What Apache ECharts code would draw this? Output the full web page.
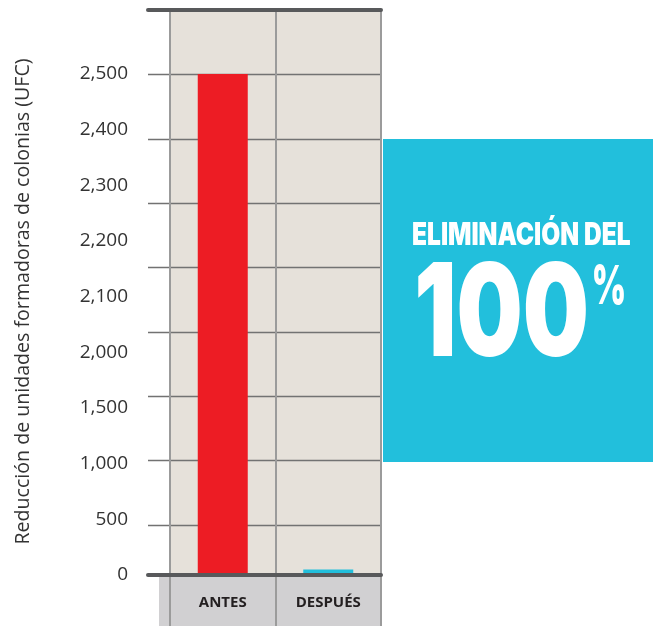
<!DOCTYPE html>
<html><head><meta charset="utf-8">
<script src="https://cdn.jsdelivr.net/npm/echarts@6/dist/echarts.min.js"></script>
<style>html,body{margin:0;padding:0;background:#fff}#c{width:653px;height:626px}</style>
</head><body><div id="c"></div>
<script>
const categories = ['ANTES', 'DESPUÉS'];
const values = [2500, 50];
const tickValues = [0, 500, 1000, 1500, 2000, 2100, 2200, 2300, 2400, 2500];
const yAxisName = 'Reducción de unidades formadoras de colonias (UFC)';
const calloutLine1 = 'ELIMINACIÓN DEL';
const calloutNumber = '100';
const calloutUnit = '%';

// broken (piecewise-linear) axis: value -> tick index position
function toAxis(v) {
  for (let i = 1; i < tickValues.length; i++) {
    if (v <= tickValues[i]) {
      const a = tickValues[i - 1], b = tickValues[i];
      return i - 1 + (v - a) / (b - a);
    }
  }
  return tickValues.length - 1;
}
function fmt(n) { return n.toLocaleString('en-US'); }

const H_LINE = '#727272';
const V_LINE = '#9b9b9b';
const DARK = '#58595b';
const CYAN = '#22bfdc';
const CALLOUT_FONT = "900 100px Inter, 'DejaVu Sans Condensed', sans-serif";

// fit a text into a glyph box [L,R]x[T,B] using canvas metrics (textBaseline middle, as zrender draws)
const mctx = document.createElement('canvas').getContext('2d');
function fitText(text, vText, box) {
  mctx.font = CALLOUT_FONT;
  mctx.textBaseline = 'middle';
  mctx.textAlign = 'left';
  const mh = mctx.measureText(text);
  const mv = mctx.measureText(vText);
  const bl = mh.actualBoundingBoxLeft, br = mh.actualBoundingBoxRight;
  const ba = mv.actualBoundingBoxAscent, bd = mv.actualBoundingBoxDescent;
  const sx = (box.R - box.L) / (bl + br);
  const sy = (box.B - box.T) / (ba + bd);
  return {
    type: 'text', z: 6,
    x: box.L + sx * bl, y: box.T + sy * ba, scaleX: sx, scaleY: sy,
    style: {text: text, x: 0, y: 0, fill: '#ffffff', font: CALLOUT_FONT, align: 'left', verticalAlign: 'middle'}
  };
}

const chart = echarts.init(document.getElementById('c'), null, {renderer: 'canvas'});
chart.setOption({
  animation: false,
  backgroundColor: '#ffffff',
  grid: [
    {left: 148, top: 10, width: 233, height: 515, show: false},
    {left: 170, top: 10, width: 211, height: 565, show: true, backgroundColor: '#e6e1da', borderWidth: 0, z: -1}
  ],
  xAxis: [
    {gridIndex: 0, type: 'value', position: 'top', min: 0, max: 1, z: 3,
     axisLine: {show: true, onZero: false, lineStyle: {color: DARK, width: 4}},
     axisTick: {show: false}, axisLabel: {show: false}, splitLine: {show: false}},
    {gridIndex: 0, type: 'value', position: 'bottom', offset: 50, min: 0, max: 1, z: 3,
     axisLine: {show: true, onZero: false, lineStyle: {color: DARK, width: 4}},
     axisTick: {show: false}, axisLabel: {show: false}, splitLine: {show: false}},
    {gridIndex: 1, type: 'category', data: categories, position: 'bottom',
     axisLine: {show: false, onZero: false},
     axisTick: {show: true, length: 51, lineStyle: {color: V_LINE, width: 2}},
     splitLine: {show: true, lineStyle: {color: V_LINE, width: 2}},
     axisLabel: {show: true, margin: 20, fontSize: 15, fontWeight: 'bold', color: '#231f20', fontFamily: "'Open Sans', sans-serif"}}
  ],
  yAxis: [
    {gridIndex: 0, type: 'value', min: 0, max: 8, interval: 1,
     axisLine: {show: false}, axisTick: {show: false}, axisLabel: {show: false},
     splitLine: {show: true, lineStyle: {color: H_LINE, width: 1.4}}},
    {gridIndex: 1, type: 'value', min: 0, max: 10.15, interval: 1,
     axisLine: {show: false}, axisTick: {show: false}, splitLine: {show: false},
     axisLabel: {show: true, margin: 42, fontSize: 19, color: '#333333', fontFamily: "'Open Sans', sans-serif",
       showMaxLabel: false, padding: [6, 0, 0, 0],
       formatter: function (val) {
         const r = Math.round(val);
         if (Math.abs(val - r) > 1e-6 || r < 0 || r >= tickValues.length) return '';
         return fmt(tickValues[r]);
       }},
     name: yAxisName, nameLocation: 'middle', nameGap: 137, nameRotate: 90,
     nameTextStyle: {fontSize: 19.6, color: '#333333', fontFamily: "'Open Sans', sans-serif", padding: [0, 18, 0, 0]}}
  ],
  series: [{
    type: 'bar', xAxisIndex: 2, yAxisIndex: 1, barWidth: 50,
    data: values.map(function (v, i) {
      return {value: toAxis(v), itemStyle: {color: i === 0 ? '#ed1c24' : CYAN}};
    })
  }],
  graphic: [
    {type: 'rect', z: -5, shape: {x: 159, y: 577, width: 223, height: 49}, style: {fill: '#d1d0d2'}},
    {type: 'rect', z: 5, shape: {x: 383, y: 139, width: 270, height: 323}, style: {fill: CYAN}},
    fitText(calloutLine1, 'ELIMINACION DEL', {L: 413, R: 630, T: 222.3, B: 245.7}),
    fitText(calloutNumber, calloutNumber, {L: 418, R: 586, T: 260, B: 357}),
    fitText(calloutUnit, calloutUnit, {L: 594, R: 624, T: 265, B: 305})
  ]
});
</script>
</body></html>
